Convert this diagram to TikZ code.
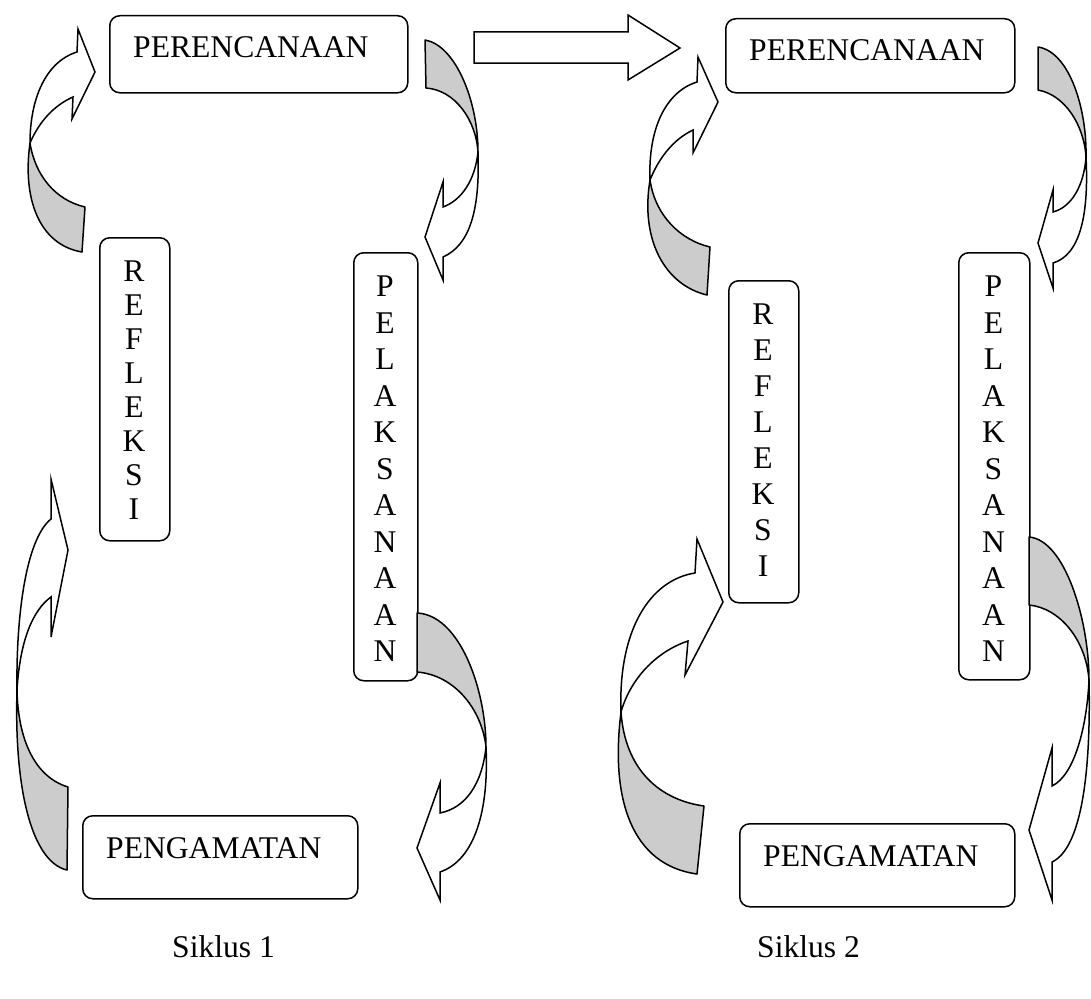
\documentclass[tikz,border=0pt]{standalone}
\usepackage{fontspec}
\setmainfont{Liberation Serif}
\begin{document}
\begin{tikzpicture}[x=1pt,y=-1pt,
  box/.style={draw, line width=1.5pt, rounded corners=10pt, inner sep=0pt, anchor=north west},
  lbl/.style={font=\fontsize{31.6}{36}\selectfont, inner sep=0pt},
  vlbl/.style={font=\fontsize{31.6}{36.5}\selectfont, inner sep=0pt, anchor=north, align=center},
  vlblc/.style={font=\fontsize{31.6}{34}\selectfont, inner sep=0pt, anchor=north, align=center},
  vlblr/.style={font=\fontsize{31.6}{36}\selectfont, inner sep=0pt, anchor=north, align=center},
  back/.style={draw, line width=1.5pt, fill=gray!40, line join=round},
  front/.style={draw, line width=1.5pt, fill=white, line join=miter}]
\fill[white] (0,0) rectangle (1091,998);
\useasboundingbox (0,0) rectangle (1091,998);

% ---------- boxes, cycle 1 ----------
\node[box, minimum width=298pt, minimum height=77pt] (per1) at (109,15) {};
\node[lbl, anchor=base west] (per1t) at (133,58) {PERENCANAAN};
\node[box, minimum width=70pt, minimum height=303pt] (ref1) at (99,237) {};
\node[vlblc] (ref1t) at (134,261) {R\\E\\F\\L\\E\\K\\S\\I};
\node[box, minimum width=64pt, minimum height=428pt] (pel1) at (353,252) {};
\node[vlbl] (pel1t) at (385,276) {P\\E\\L\\A\\K\\S\\A\\N\\A\\A\\N};
\node[box, minimum width=275pt, minimum height=83pt] (pen1) at (82,815) {};
\node[lbl, anchor=base west] (pen1t) at (106,858) {PENGAMATAN};

% ---------- boxes, cycle 2 ----------
\node[box, minimum width=289pt, minimum height=74pt] (per2) at (725,18) {};
\node[lbl, anchor=base west] (per2t) at (749,60) {PERENCANAAN};
\node[box, minimum width=70pt, minimum height=322pt] (ref2) at (728,280) {};
\node[vlblr] (ref2t) at (763,304) {R\\E\\F\\L\\E\\K\\S\\I};
\node[box, minimum width=71pt, minimum height=427pt] (pel2) at (958,252) {};
\node[vlbl] (pel2t) at (993.5,276) {P\\E\\L\\A\\K\\S\\A\\N\\A\\A\\N};
\node[box, minimum width=275pt, minimum height=83pt] (pen2) at (739,823) {};
\node[lbl, anchor=base west] (pen2t) at (763,866) {PENGAMATAN};

% ---------- labels ----------
\node[lbl, anchor=base west] (sik1) at (172,957) {Siklus 1};
\node[lbl, anchor=base west] (sik2) at (757,957) {Siklus 2};

% ---------- block arrow between cycles ----------
\draw[front] (474,32) -- (628,32) -- (628,15) -- (680,48) -- (628,80) -- (628,63) -- (474,63) -- cycle;

% ---------- A1: cycle 1, top-left ----------
\draw[back] (85,207) .. controls (55,200) and (35,175) .. (30,143)
  .. controls (22,200) and (40,245) .. (82,252) -- cycle;
\draw[front] (30,143) .. controls (30,100) and (45,62) .. (77,52) -- (78,29) -- (95,72)
  -- (72,119) -- (73,97) .. controls (55,105) and (40,120) .. (30,143) -- cycle;

% ---------- A2: cycle 1, top-right ----------
\draw[back] (425,40) .. controls (455,45) and (478,100) .. (478,152)
  .. controls (476,120) and (455,90) .. (426,88) -- cycle;
\draw[front] (478,152) .. controls (480,210) and (470,245) .. (443,257) -- (443,280)
  -- (425,237) -- (443,182) -- (443,207) .. controls (462,200) and (475,180) .. (478,152) -- cycle;

% ---------- A3: cycle 1, bottom-left ----------
\draw[back] (68,787) .. controls (35,777) and (18,740) .. (17,690)
  .. controls (14,790) and (32,862) .. (67,870) -- cycle;
\draw[front] (17,690) .. controls (16,620) and (25,540) .. (51,519) -- (51,479) -- (68,550)
  -- (51,637) -- (51,597) .. controls (33,610) and (20,640) .. (17,690) -- cycle;

% ---------- A4: cycle 1, bottom-right ----------
\draw[back] (417,613) .. controls (460,615) and (486,690) .. (486,747)
  .. controls (482,710) and (455,675) .. (417,672) -- cycle;
\draw[front] (486,747) .. controls (489,810) and (475,860) .. (440,872) -- (440,900)
  -- (417,848) -- (440,783) -- (440,813) .. controls (465,808) and (482,785) .. (486,747) -- cycle;

% ---------- B1: cycle 2, top-left ----------
\draw[back] (710,247) .. controls (680,240) and (655,215) .. (650,180)
  .. controls (640,240) and (665,285) .. (707,295) -- cycle;
\draw[front] (650,180) .. controls (648,130) and (665,92) .. (697,82) -- (698,57) -- (718,102)
  -- (693,153) -- (693,130) .. controls (672,140) and (658,160) .. (650,180) -- cycle;

% ---------- B2: cycle 2, top-right ----------
\draw[back] (1038,47) .. controls (1070,52) and (1087,110) .. (1086,157)
  .. controls (1084,125) and (1065,95) .. (1038,90) -- cycle;
\draw[front] (1086,157) .. controls (1089,215) and (1080,255) .. (1053,263) -- (1053,288)
  -- (1038,243) -- (1053,190) -- (1053,212) .. controls (1072,207) and (1084,185) .. (1086,157) -- cycle;

% ---------- B3: cycle 2, bottom-left ----------
\draw[back] (704,806) .. controls (660,800) and (625,770) .. (621,712)
  .. controls (610,800) and (632,865) .. (697,874) -- cycle;
\draw[front] (621,712) .. controls (618,630) and (650,580) .. (695,573) -- (697,539) -- (723,602)
  -- (685,675) -- (688,641) .. controls (655,652) and (630,680) .. (621,712) -- cycle;

% ---------- B4: cycle 2, bottom-right ----------
\draw[back] (1029,537) .. controls (1065,540) and (1089,620) .. (1089,680)
  .. controls (1086,640) and (1060,608) .. (1029,605) -- cycle;
\draw[front] (1089,680) .. controls (1091,770) and (1082,848) .. (1052,862) -- (1052,900)
  -- (1029,830) -- (1052,748) -- (1052,786) .. controls (1075,775) and (1087,725) .. (1089,680) -- cycle;
\end{tikzpicture}
\end{document}
